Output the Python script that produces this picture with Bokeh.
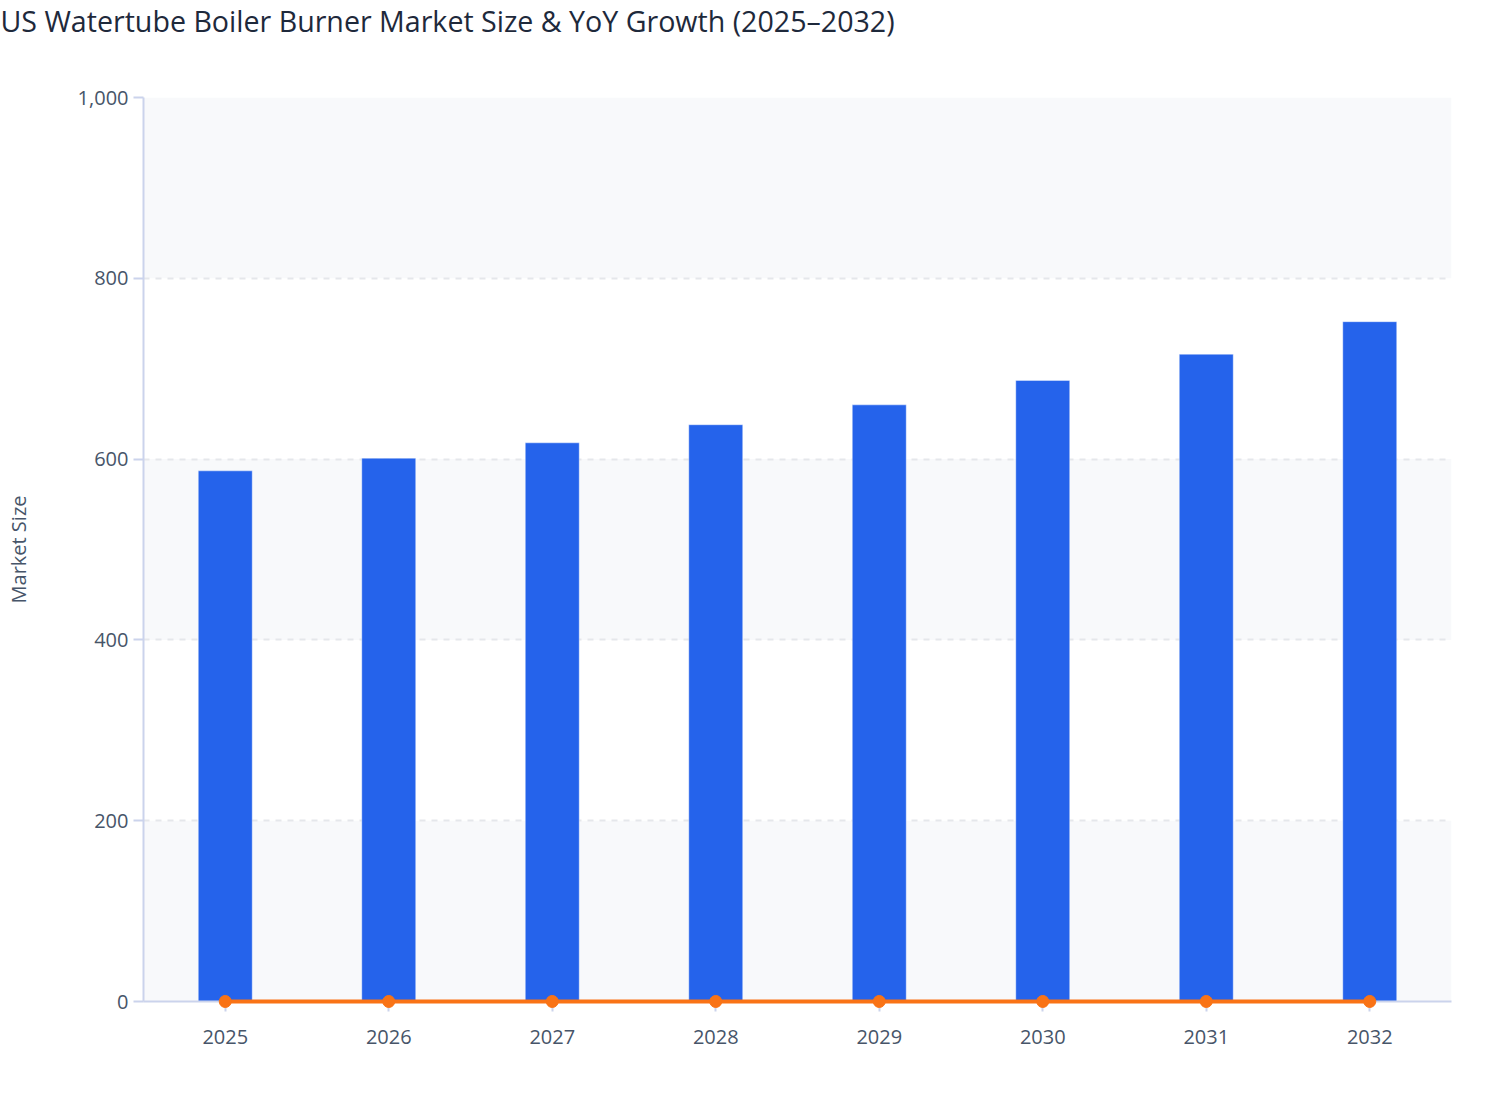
from bokeh.plotting import figure
from bokeh.models import NumeralTickFormatter, FixedTicker, Range1d, Title
from bokeh.embed import file_html
from bokeh.resources import INLINE

years = ["2025", "2026", "2027", "2028", "2029", "2030", "2031", "2032"]
market_size = [587, 601, 618, 638, 660, 687, 716, 752]
yoy_growth = [0.024, 0.024, 0.028, 0.032, 0.034, 0.041, 0.042, 0.050]
y_ticks = [0, 200, 400, 600, 800, 1000]
title_text = "US Watertube Boiler Burner Market Size & YoY Growth (2025\u20132032)"

FONT = "Open Sans"
AXIS_COL = "#cbd3ec"
TEXT_COL = "#475569"

p = figure(
    x_range=years, y_range=Range1d(0, 1000),
    width=1492, height=1090,
    output_backend="svg", toolbar_location=None,
    min_border_left=143, min_border_right=41,
    min_border_top=5, min_border_bottom=89,
)

# spacer between the title and the plot frame
p.add_layout(Title(text=" ", text_font_size="10px", standoff=43), "above")

p.title.text = title_text
p.title.text_font = FONT
p.title.text_font_size = "28.6px"
p.title.text_font_style = "normal"
p.title.text_color = "#1e293b"
p.title.align = "left"
p.title.vertical_align = "top"
p.title.offset = -143
p.title.standoff = 0

p.vbar(x=years, top=market_size, width=0.33, fill_color="#2563eb",
       line_color="white", line_alpha=0.4, line_width=1)
r1 = p.line(x=years, y=yoy_growth, line_color="#f97316", line_width=4)
r2 = p.scatter(x=years, y=yoy_growth, size=12, fill_color="#f97316", line_color="#f97316")
r1.level = "overlay"
r2.level = "overlay"

p.outline_line_color = None
p.border_fill_color = "white"
p.background_fill_color = "white"

p.xgrid.grid_line_color = None
p.ygrid.ticker = FixedTicker(ticks=[0] + y_ticks)
p.ygrid.grid_line_color = "#e5e7eb"
p.ygrid.grid_line_width = 2
p.ygrid.grid_line_dash = "6 6"
p.ygrid.band_fill_color = "#f8f9fb"
p.ygrid.band_fill_alpha = 1.0

p.yaxis.ticker = FixedTicker(ticks=y_ticks)
p.yaxis.formatter = NumeralTickFormatter(format="0,0")
p.yaxis.axis_label = "Market Size"

for ax in (p.xaxis[0], p.yaxis[0]):
    ax.axis_line_color = AXIS_COL
    ax.axis_line_width = 2
    ax.major_tick_line_color = AXIS_COL
    ax.major_tick_line_width = 2
    ax.major_tick_in = 0
    ax.major_tick_out = 10
    ax.minor_tick_line_color = None
    ax.major_label_text_font = FONT
    ax.major_label_text_font_size = "20px"
    ax.major_label_text_color = TEXT_COL
    ax.axis_label_text_font = FONT
    ax.axis_label_text_font_size = "20px"
    ax.axis_label_text_font_style = "normal"
    ax.axis_label_text_color = TEXT_COL

p.yaxis.major_label_standoff = 5
p.yaxis.axis_label_standoff = 43
p.xaxis.major_label_standoff = 18

open("out.html", "w").write(file_html(p, INLINE))
